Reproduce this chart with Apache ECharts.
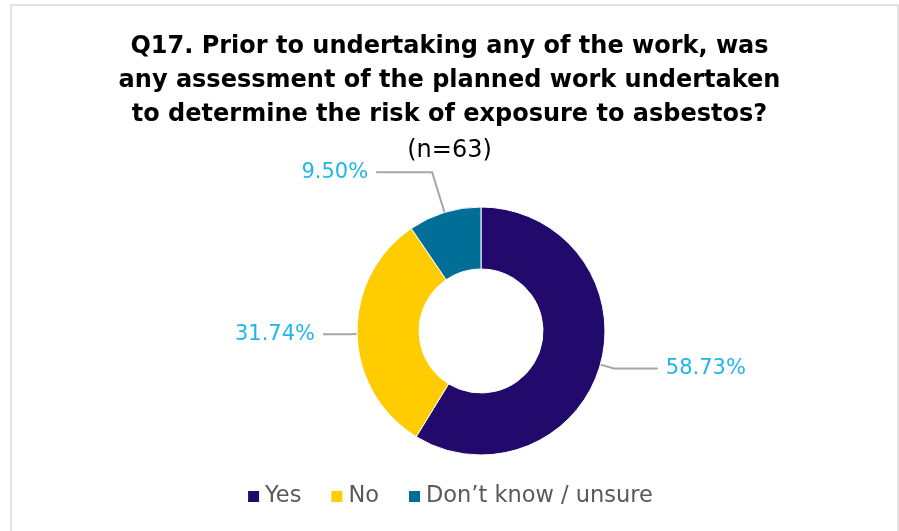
<!DOCTYPE html>
<html><head><meta charset="utf-8">
<script src="https://cdn.jsdelivr.net/npm/echarts@6/dist/echarts.min.js"></script>
<style>html,body{margin:0;padding:0;background:#fff}#c{width:899px;height:531px}</style>
</head><body><div id="c"></div>
<script>
const categories = ['Yes', 'No', 'Don\u2019t know / unsure'];
const values = [58.73, 31.74, 9.50];
const colors = ['#210A6B', '#FFCC00', '#006E96'];
const titleText = 'Q17. Prior to undertaking any of the work, was\nany assessment of the planned work undertaken\nto determine the risk of exposure to asbestos?';
const subText = '(n=63)';

const FONT = 'DejaVu Sans';
const lineLens = [{length: 14, length2: 44}, {length: 8, length2: 26}, {length: 42, length2: 56}];

const chart = echarts.init(document.getElementById('c'), null, {renderer: 'canvas'});
chart.setOption({
  animation: false,
  backgroundColor: '#fff',
  graphic: [{type: 'rect', shape: {x: 11, y: 5, width: 887, height: 540}, style: {fill: 'none', stroke: '#d9d9d9', lineWidth: 1.5}, silent: true}],
  title: {
    text: titleText,
    subtext: subText,
    left: 'center',
    top: 25,
    padding: [5, 0, 5, 17],
    itemGap: 4,
    textStyle: {fontFamily: FONT, fontWeight: 'bold', fontSize: 24, color: '#000', lineHeight: 34},
    subtextStyle: {fontFamily: FONT, fontSize: 24, color: '#000', lineHeight: 30}
  },
  legend: {
    bottom: 18,
    left: 'center',
    icon: 'rect',
    itemWidth: 13, itemHeight: 13, itemGap: 28,
    textStyle: {fontFamily: FONT, fontSize: 22.5, color: '#595959'},
    data: categories
  },
  series: [{
    type: 'pie',
    center: [481, 331],
    radius: [62, 124],
    startAngle: 90,
    clockwise: true,
    avoidLabelOverlap: false,
    data: categories.map((c, i) => ({
      name: c, value: values[i],
      itemStyle: {color: colors[i], borderColor: '#fff', borderWidth: 1},
      labelLine: lineLens[i]
    })),
    label: {
      show: true, position: 'outside',
      formatter: p => p.value.toFixed(2) + '%',
      fontFamily: FONT, fontSize: 21, color: '#1FB6EA',
      distanceToLabelLine: 8
    },
    labelLine: {show: true, lineStyle: {color: '#A6A6A6', width: 2}}
  }]
});
</script></body></html>
